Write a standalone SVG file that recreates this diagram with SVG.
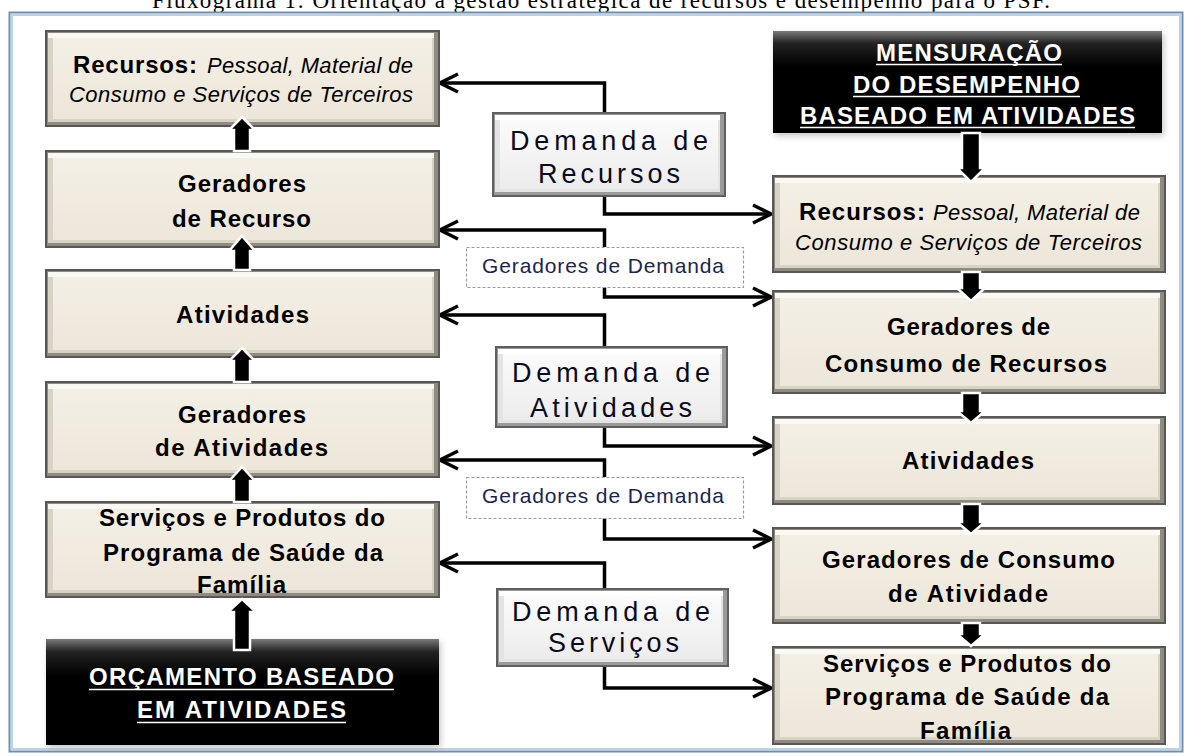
<svg xmlns="http://www.w3.org/2000/svg" width="1191" height="756" viewBox="0 0 1191 756">
<defs>
<style>
.ob{fill:#8f8b81;stroke:#575757;stroke-width:2}
.lb{fill:#d9d3c6}
.tb{fill:#fbf9f3}
.fb{fill:url(#gb)}
.og{fill:#9a9a9a;stroke:#5f5f5f;stroke-width:2}
.lg{fill:#e4e4e4}
.tg{fill:#ffffff}
.fg{fill:url(#gg)}
.bk{fill:url(#gk)}
.sh{fill:#9a9a9a;opacity:.55;filter:url(#blur)}
text{font-family:"Liberation Sans",Arial,sans-serif}
.bold{font-weight:bold;font-size:24px;fill:#000}
.ital{font-style:italic;font-size:22px;fill:#000}
.dm{font-size:27px;fill:#0a0a20}
.gd{font-size:21px;fill:#1c2450}
.wt{font-weight:bold;font-size:24px;fill:#fff}
.ul{stroke:#fff;stroke-width:1.6}
.con{fill:none;stroke:#000;stroke-width:3.5;marker-end:url(#ah)}
.ba{fill:#000;stroke:#fff;stroke-width:2.5}
.dash{fill:#fff;stroke:#9a9a9a;stroke-width:1.2;stroke-dasharray:3 2}
</style>
<linearGradient id="gb" x1="0" y1="0" x2="0" y2="1"><stop offset="0" stop-color="#f4efe5"/><stop offset="1" stop-color="#ede7da"/></linearGradient>
<linearGradient id="gg" x1="0" y1="0" x2="0" y2="1"><stop offset="0" stop-color="#fbfbfb"/><stop offset="1" stop-color="#ececec"/></linearGradient>
<linearGradient id="gk" x1="0" y1="0" x2="0" y2="1"><stop offset="0" stop-color="#7a7a7a"/><stop offset="0.12" stop-color="#222"/><stop offset="0.35" stop-color="#000"/><stop offset="1" stop-color="#000"/></linearGradient>
<filter id="blur" x="-10%" y="-10%" width="120%" height="120%"><feGaussianBlur stdDeviation="3"/></filter>
<marker id="ah" viewBox="0 0 22 22" refX="20" refY="11" markerWidth="22" markerHeight="22" markerUnits="userSpaceOnUse" orient="auto"><path d="M2,2 L20,11 L2,20" fill="none" stroke="#000" stroke-width="3.5"/></marker>
</defs>

<text x="601" y="8" text-anchor="middle" style="font-family:'Liberation Serif',serif;font-size:23px" textLength="898" lengthAdjust="spacing">Fluxograma 1: Orientação à gestão estratégica de recursos e desempenho para o PSF.</text>

<g id="frame">
<rect x="9.5" y="12.5" width="1173" height="739" fill="#fff" stroke="#6f8fae" stroke-width="2"/>
<rect x="12" y="15" width="1168" height="734" fill="none" stroke="#bcd3e7" stroke-width="2"/>
</g>

<g id="connectors">
<path class="con" d="M604.5,113 V83 H440"/>
<path class="con" d="M604.5,196 V214 H771"/>
<path class="con" d="M604.5,247 V230 H440"/>
<path class="con" d="M604.5,287 V297 H771"/>
<path class="con" d="M604.5,347 V315 H440"/>
<path class="con" d="M604.5,427 V446 H771"/>
<path class="con" d="M604.5,477 V460 H440"/>
<path class="con" d="M604.5,518 V539 H771"/>
<path class="con" d="M604.5,589 V563 H440"/>
<path class="con" d="M604.5,666 V688 H771"/>
</g>

<g id="L1">
<rect class="ob" x="46" y="31" width="393" height="95"/><rect class="lb" x="48" y="33" width="386" height="89"/><rect class="tb" x="48" y="33" width="386" height="5"/><rect class="fb" x="53" y="38" width="379" height="81"/>
<text class="bold" x="73" y="73" textLength="124" lengthAdjust="spacing">Recursos:</text>
<text class="ital" x="207" y="73" textLength="206" lengthAdjust="spacing">Pessoal, Material de</text>
<text class="ital" x="69" y="102" textLength="344" lengthAdjust="spacing">Consumo e Serviços de Terceiros</text>
</g>
<g id="L2">
<rect class="ob" x="46" y="151" width="393" height="96"/><rect class="lb" x="48" y="153" width="386" height="90"/><rect class="tb" x="48" y="153" width="386" height="5"/><rect class="fb" x="53" y="158" width="379" height="82"/>
<text class="bold" x="178" y="192" textLength="128" lengthAdjust="spacing">Geradores</text>
<text class="bold" x="172" y="227" textLength="139" lengthAdjust="spacing">de Recurso</text>
</g>
<g id="L3">
<rect class="ob" x="46" y="270" width="393" height="87"/><rect class="lb" x="48" y="272" width="386" height="81"/><rect class="tb" x="48" y="272" width="386" height="5"/><rect class="fb" x="53" y="277" width="379" height="73"/>
<text class="bold" x="176" y="323" textLength="133" lengthAdjust="spacing">Atividades</text>
</g>
<g id="L4">
<rect class="ob" x="46" y="382" width="393" height="95"/><rect class="lb" x="48" y="384" width="386" height="89"/><rect class="tb" x="48" y="384" width="386" height="5"/><rect class="fb" x="53" y="389" width="379" height="81"/>
<text class="bold" x="178" y="423" textLength="128" lengthAdjust="spacing">Geradores</text>
<text class="bold" x="155" y="456" textLength="173" lengthAdjust="spacing">de  Atividades</text>
</g>
<g id="L5">
<rect class="ob" x="46" y="502" width="393" height="95"/><rect class="lb" x="48" y="504" width="386" height="89"/><rect class="tb" x="48" y="504" width="386" height="5"/><rect class="fb" x="53" y="509" width="379" height="81"/>
<text class="bold" x="99" y="526" textLength="286" lengthAdjust="spacing">Serviços e Produtos do</text>
<text class="bold" x="103" y="561" textLength="280" lengthAdjust="spacing">Programa de Saúde da</text>
<text class="bold" x="197" y="593" textLength="89" lengthAdjust="spacing">Família</text>
</g>
<g id="LB">
<rect class="sh" x="48" y="642" width="393" height="106"/>
<rect class="bk" x="46" y="639" width="393" height="106"/>
<text class="wt" x="89" y="685" textLength="305" lengthAdjust="spacing">ORÇAMENTO BASEADO</text>
<line class="ul" x1="89" y1="689.5" x2="394" y2="689.5"/>
<text class="wt" x="137" y="718" textLength="209" lengthAdjust="spacing">EM  ATIVIDADES</text>
<line class="ul" x1="137" y1="722.5" x2="346" y2="722.5"/>
</g>

<g id="RB">
<rect class="sh" x="775" y="34" width="389" height="102"/>
<rect class="bk" x="773" y="31" width="389" height="102"/>
<text class="wt" x="876" y="61" textLength="186" lengthAdjust="spacing">MENSURAÇÃO</text>
<line class="ul" x1="876" y1="64.5" x2="1062" y2="64.5"/>
<text class="wt" x="853" y="93" textLength="227" lengthAdjust="spacing">DO DESEMPENHO</text>
<line class="ul" x1="853" y1="96.5" x2="1080" y2="96.5"/>
<text class="wt" x="800" y="124" textLength="335" lengthAdjust="spacing">BASEADO EM ATIVIDADES</text>
<line class="ul" x1="800" y1="127.5" x2="1135" y2="127.5"/>
</g>
<g id="R1">
<rect class="ob" x="773" y="176" width="392" height="96"/><rect class="lb" x="775" y="178" width="385" height="90"/><rect class="tb" x="775" y="178" width="385" height="5"/><rect class="fb" x="780" y="183" width="378" height="82"/>
<text class="bold" x="799" y="220" textLength="126" lengthAdjust="spacing">Recursos:</text>
<text class="ital" x="933" y="220" textLength="207" lengthAdjust="spacing">Pessoal, Material de</text>
<text class="ital" x="795" y="250" textLength="347" lengthAdjust="spacing">Consumo e Serviços de Terceiros</text>
</g>
<g id="R2">
<rect class="ob" x="773" y="291" width="392" height="102"/><rect class="lb" x="775" y="293" width="385" height="96"/><rect class="tb" x="775" y="293" width="385" height="5"/><rect class="fb" x="780" y="298" width="378" height="88"/>
<text class="bold" x="887" y="335" textLength="163" lengthAdjust="spacing">Geradores de</text>
<text class="bold" x="825" y="372" textLength="282" lengthAdjust="spacing">Consumo de Recursos</text>
</g>
<g id="R3">
<rect class="ob" x="773" y="417" width="392" height="87"/><rect class="lb" x="775" y="419" width="385" height="81"/><rect class="tb" x="775" y="419" width="385" height="5"/><rect class="fb" x="780" y="424" width="378" height="73"/>
<text class="bold" x="902" y="469" textLength="132" lengthAdjust="spacing">Atividades</text>
</g>
<g id="R4">
<rect class="ob" x="773" y="528" width="392" height="95"/><rect class="lb" x="775" y="530" width="385" height="89"/><rect class="tb" x="775" y="530" width="385" height="5"/><rect class="fb" x="780" y="535" width="378" height="81"/>
<text class="bold" x="822" y="568" textLength="293" lengthAdjust="spacing">Geradores de Consumo</text>
<text class="bold" x="888" y="602" textLength="160" lengthAdjust="spacing">de  Atividade</text>
</g>
<g id="R5">
<rect class="ob" x="773" y="647" width="392" height="97"/><rect class="lb" x="775" y="649" width="385" height="91"/><rect class="tb" x="775" y="649" width="385" height="5"/><rect class="fb" x="780" y="654" width="378" height="83"/>
<text class="bold" x="823" y="672" textLength="288" lengthAdjust="spacing">Serviços e Produtos do</text>
<text class="bold" x="825" y="705" textLength="284" lengthAdjust="spacing">Programa de Saúde da</text>
<text class="bold" x="920" y="739" textLength="91" lengthAdjust="spacing">Família</text>
</g>

<g id="D1">
<rect class="og" x="493" y="113" width="232" height="83"/><rect class="lg" x="495" y="115" width="225" height="77"/><rect class="tg" x="495" y="115" width="225" height="5"/><rect class="fg" x="500" y="120" width="218" height="69"/>
<text class="dm" x="510" y="150" textLength="198" lengthAdjust="spacing">Demanda de</text>
<text class="dm" x="538" y="183" textLength="142" lengthAdjust="spacing">Recursos</text>
</g>
<g id="G1">
<rect class="dash" x="466.5" y="247.5" width="277" height="40"/>
<text class="gd" x="482" y="273" textLength="242" lengthAdjust="spacing">Geradores de Demanda</text>
</g>
<g id="D2">
<rect class="og" x="496" y="347" width="231" height="80"/><rect class="lg" x="498" y="349" width="224" height="74"/><rect class="tg" x="498" y="349" width="224" height="5"/><rect class="fg" x="503" y="354" width="217" height="66"/>
<text class="dm" x="512" y="382" textLength="198" lengthAdjust="spacing">Demanda de</text>
<text class="dm" x="530" y="417" textLength="162" lengthAdjust="spacing">Atividades</text>
</g>
<g id="G2">
<rect class="dash" x="466.5" y="477.5" width="277" height="41"/>
<text class="gd" x="482" y="503" textLength="242" lengthAdjust="spacing">Geradores de Demanda</text>
</g>
<g id="D3">
<rect class="og" x="497" y="589" width="231" height="77"/><rect class="lg" x="499" y="591" width="224" height="71"/><rect class="tg" x="499" y="591" width="224" height="5"/><rect class="fg" x="504" y="596" width="217" height="63"/>
<text class="dm" x="512" y="621" textLength="198" lengthAdjust="spacing">Demanda de</text>
<text class="dm" x="548" y="652" textLength="131" lengthAdjust="spacing">Serviços</text>
</g>

<g id="flow-arrows">
<path class="ba" d="M242,117 L255,130 L250,130 L250,151 L234,151 L234,130 L229,130 Z"/>
<path class="ba" d="M242,236 L255,251 L250,251 L250,270 L234,270 L234,251 L229,251 Z"/>
<path class="ba" d="M242,348 L255,361 L250,361 L250,382 L234,382 L234,361 L229,361 Z"/>
<path class="ba" d="M242,467 L255,481 L250,481 L250,502 L234,502 L234,481 L229,481 Z"/>
<path class="ba" d="M242,599 L256,612 L250,612 L250,650 L234,650 L234,612 L228,612 Z"/>
<path class="ba" d="M971,182 L985,168 L980,168 L980,133 L962,133 L962,168 L957,168 Z"/>
<path class="ba" d="M971,301 L985,288 L980,288 L980,272 L962,272 L962,288 L957,288 Z"/>
<path class="ba" d="M971,423 L985,411 L980,411 L980,393 L962,393 L962,411 L957,411 Z"/>
<path class="ba" d="M971,534 L985,522 L980,522 L980,504 L962,504 L962,522 L957,522 Z"/>
<path class="ba" d="M971,646 L985,634 L980,634 L980,623 L962,623 L962,634 L957,634 Z"/>
</g>
</svg>
